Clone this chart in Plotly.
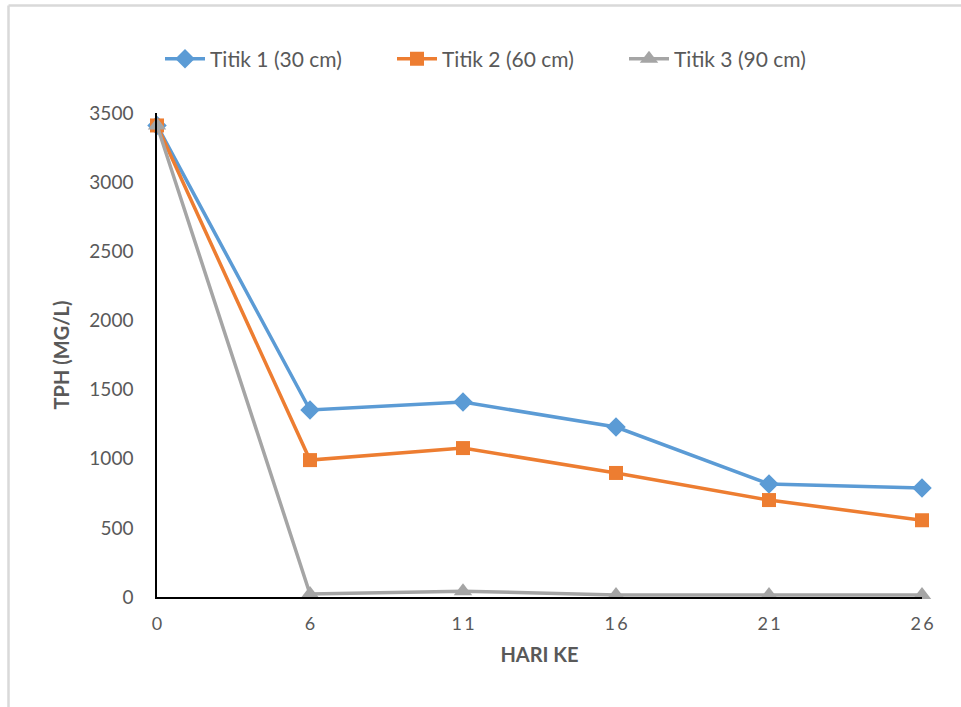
import plotly.graph_objects as go

categories = ["0", "6", "11", "16", "21", "26"]
tick_labels = ["0", "6", "1\u20091", "1\u20096", "2\u20091", "2\u20096"]
titik1 = [3410, 1352, 1410, 1229, 817, 788]
titik2 = [3410, 990, 1077, 897, 701, 555]
titik3 = [3410, 22, 42, 15, 15, 15]
series_names = ["Titik 1 (30 cm)", "Titik 2 (60 cm)", "Titik 3 (90 cm)"]

W, H = 961, 707
L, R, T, B = 157, 39, 113, 110
pw, ph = W - L - R, H - T - B

fig = go.Figure()
styles = [
    (titik1, "#5B9BD5", "diamond", 15),
    (titik2, "#ED7D31", "square", 14),
    (titik3, "#A5A5A5", "triangle-up", 16),
]
for name, (vals, col, sym, sz) in zip(series_names, styles):
    fig.add_trace(go.Scatter(
        x=categories, y=vals, name=name, mode="lines+markers",
        line=dict(color=col, width=3.5),
        marker=dict(symbol=sym, size=sz, color=col),
        cliponaxis=False,
    ))

font_family = "Lato, 'Open Sans', sans-serif"
fig.update_layout(
    width=W, height=H,
    margin=dict(l=L, r=R, t=T, b=B),
    paper_bgcolor="white", plot_bgcolor="white",
    font=dict(family=font_family, color="#595959", size=18),
    showlegend=True,
    legend=dict(orientation="h", x=(160 - L) / pw, xanchor="left", y=(H - B - 59) / ph,
                yanchor="middle", font=dict(size=21, color="#595959"),
                itemwidth=40, entrywidth=177, entrywidthmode="pixels",
                traceorder="normal"),
    xaxis=dict(type="category", range=[0, 5], tickvals=categories, ticktext=tick_labels,
               showgrid=False, showline=True, linecolor="black", linewidth=1.5,
               ticks="", ticklabelstandoff=10, tickfont=dict(size=18, color="#595959"),
               title=dict(text="<b>HARI KE</b>", font=dict(size=20, color="#595959"), standoff=15),
               zeroline=False),
    yaxis=dict(range=[0, 3500], dtick=500, showgrid=False, showline=True,
               linecolor="black", linewidth=1.5, ticks="", ticklabelstandoff=18,
               tickfont=dict(size=19, color="#595959"),
               title=dict(text="<b>TPH (MG/L)</b>", font=dict(size=20, color="#595959"), standoff=14),
               zeroline=False),
)

# chart-area border (light gray) on top and left edges
x_left = (8.5 - L) / pw
y_top = (H - B - 5.5) / ph
fig.add_shape(type="line", xref="paper", yref="paper", x0=x_left, x1=(W + 5 - L) / pw,
              y0=y_top, y1=y_top, line=dict(color="#D9D9D9", width=2.5))
fig.add_shape(type="line", xref="paper", yref="paper", x0=x_left, x1=x_left,
              y0=y_top, y1=-(B + 5) / ph, line=dict(color="#D9D9D9", width=2.5))

fig.write_html("out.html")
